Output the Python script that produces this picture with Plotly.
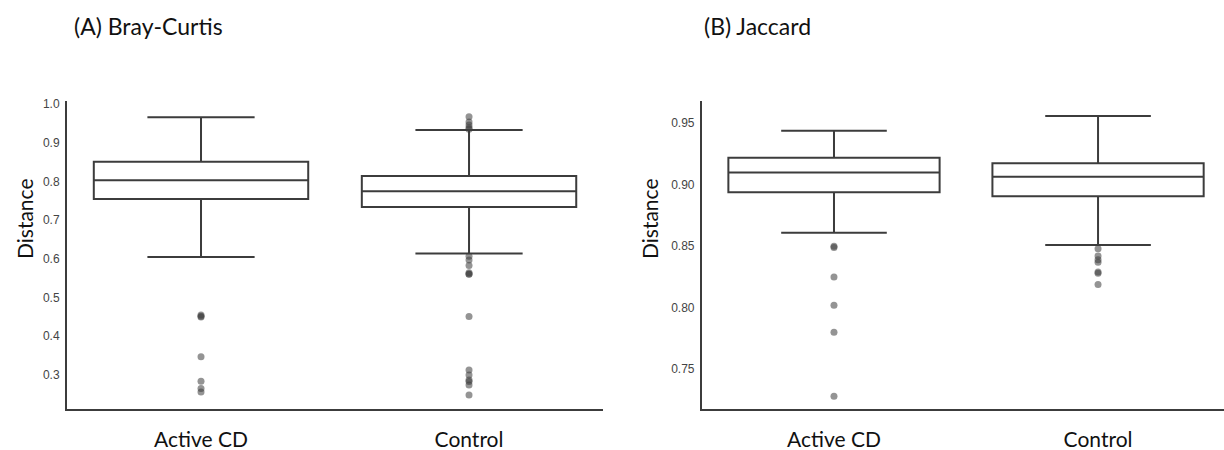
import plotly.graph_objects as go

# ---------------- data ----------------
categories = ["Active CD", "Control"]

# (A) Bray-Curtis box statistics
bc_q1 = [0.755, 0.734]
bc_median = [0.803, 0.775]
bc_q3 = [0.851, 0.814]
bc_lower = [0.605, 0.614]
bc_upper = [0.966, 0.933]
bc_out_active = [0.455, 0.452, 0.450, 0.347, 0.284, 0.265, 0.256]
bc_out_control = [0.967, 0.954, 0.946, 0.939, 0.935,
                  0.607, 0.597, 0.583, 0.564, 0.561, 0.560,
                  0.451, 0.313, 0.300, 0.287, 0.283, 0.274, 0.248]

# (B) Jaccard box statistics
jc_q1 = [0.894, 0.8906]
jc_median = [0.910, 0.9066]
jc_q3 = [0.922, 0.9175]
jc_lower = [0.861, 0.851]
jc_upper = [0.944, 0.956]
jc_out_active = [0.850, 0.849, 0.825, 0.802, 0.780, 0.728]
jc_out_control = [0.848, 0.842, 0.839, 0.837, 0.829, 0.828, 0.819]

bc_ticks = [0.3, 0.4, 0.5, 0.6, 0.7, 0.8, 0.9, 1.0]
jc_ticks = [0.75, 0.80, 0.85, 0.90, 0.95]

panel_titles = ["(A) Bray-Curtis", "(B) Jaccard"]
y_title = "Distance"

# ---------------- style ----------------
LINE = "#3c3c3c"
LABEL_FONT = "Lato"
TICK_FONT = "Liberation Sans"

fig = go.Figure()

def add_panel(xa, ya, q1, med, q3, lo, hi, out_a, out_c):
    fig.add_trace(go.Box(
        x=categories, q1=q1, median=med, q3=q3,
        lowerfence=lo, upperfence=hi,
        width=0.8, whiskerwidth=0.5,
        fillcolor="white", line=dict(color=LINE, width=2),
        boxpoints=False, hoverinfo="skip",
        xaxis=xa, yaxis=ya, showlegend=False,
    ))
    xs = [categories[0]] * len(out_a) + [categories[1]] * len(out_c)
    fig.add_trace(go.Scatter(
        x=xs, y=out_a + out_c, mode="markers",
        marker=dict(color="rgba(60,60,60,0.55)", size=7, line=dict(width=0)),
        xaxis=xa, yaxis=ya, showlegend=False, hoverinfo="skip",
    ))

add_panel("x", "y", bc_q1, bc_median, bc_q3, bc_lower, bc_upper,
          bc_out_active, bc_out_control)
add_panel("x2", "y2", jc_q1, jc_median, jc_q3, jc_lower, jc_upper,
          jc_out_active, jc_out_control)

xaxis_common = dict(
    type="category", showgrid=False, zeroline=False, showline=True,
    linecolor=LINE, linewidth=2, ticks="", ticklabelstandoff=11,
    automargin=False,
    tickfont=dict(family=LABEL_FONT, size=21, color="#111"),
    categoryorder="array", categoryarray=categories,
)
yaxis_common = dict(
    showgrid=False, zeroline=False, showline=True,
    linecolor=LINE, linewidth=2, ticks="", ticklabelstandoff=3,
    automargin=False,
    tickfont=dict(family=TICK_FONT, size=12, color="#444"),
)

fig.update_layout(
    width=1224, height=450,
    margin=dict(l=67, r=0, t=101, b=41, autoexpand=False),
    paper_bgcolor="white", plot_bgcolor="white",
    xaxis=dict(domain=[0, 0.4633], range=[-0.5, 1.5], **xaxis_common),
    xaxis2=dict(domain=[0.5488, 1.0], range=[-0.5, 1.477], anchor="y2",
                **xaxis_common),
    yaxis=dict(range=[0.212, 1.008], tickvals=bc_ticks,
               tickformat=".1f", **yaxis_common),
    yaxis2=dict(range=[0.7177, 0.9681], tickvals=jc_ticks,
                tickformat=".2f", anchor="x2", **yaxis_common),
)

annots = [
    dict(text=panel_titles[0], x=0.0043, y=1.2435),
    dict(text=panel_titles[1], x=0.5488 + 0.0, y=1.2435),
]
for a in annots:
    fig.add_annotation(xref="paper", yref="paper", xanchor="left",
                       yanchor="middle", showarrow=False,
                       font=dict(family=LABEL_FONT, size=23, color="#111"), **a)
for xpos in [-0.0372, 0.503]:
    fig.add_annotation(text=y_title, xref="paper", yref="paper",
                       x=xpos, y=0.620, xanchor="center", yanchor="middle",
                       textangle=-90, showarrow=False,
                       font=dict(family=LABEL_FONT, size=21, color="#111"))

fig.write_html("out.html")
